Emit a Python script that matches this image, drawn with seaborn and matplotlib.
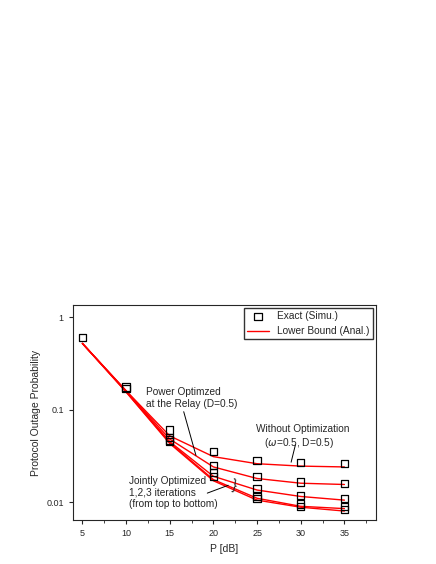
import matplotlib
matplotlib.use("Agg")
import matplotlib.pyplot as plt
import seaborn as sns
from matplotlib.ticker import MultipleLocator, NullLocator, FixedLocator

sns.set_style("ticks")
plt.rcParams["font.family"] = ["Liberation Sans", "DejaVu Sans"]

snr = [5, 10, 15, 20, 25, 30, 35]
without_opt = [0.52, 0.16, 0.052, 0.031, 0.026, 0.0245, 0.024]
power_opt = [0.52, 0.16, 0.048, 0.024, 0.018, 0.016, 0.0155]
joint_1 = [0.52, 0.158, 0.045, 0.019, 0.0135, 0.0115, 0.0105]
joint_2 = [0.52, 0.156, 0.044, 0.0175, 0.011, 0.009, 0.0085]
joint_3 = [0.52, 0.155, 0.043, 0.017, 0.0105, 0.0088, 0.008]

sim_x = [5, 10, 10, 15, 15, 15, 15, 20, 20, 20, 20, 25, 25, 25, 25, 25,
         30, 30, 30, 30, 30, 35, 35, 35, 35, 35]
sim_y = [0.6, 0.17, 0.175, 0.06, 0.05, 0.047, 0.045, 0.035, 0.025, 0.021, 0.019,
         0.028, 0.019, 0.014, 0.0115, 0.011, 0.027, 0.0165, 0.0118, 0.0095, 0.009,
         0.026, 0.016, 0.011, 0.009, 0.0083]

fig = plt.figure(figsize=(4.36, 5.64), dpi=100)
ax = fig.add_axes([0.167, 0.078, 0.695, 0.381])

for i, curve in enumerate([without_opt, power_opt, joint_1, joint_2, joint_3]):
    sns.lineplot(x=snr, y=curve, ax=ax, color="red", lw=1.0,
                 label="Lower Bound (Anal.)" if i == 0 else None)
sns.scatterplot(x=sim_x, y=sim_y, ax=ax, marker="s", s=28, facecolor="none",
                edgecolor="black", linewidth=0.9, label="Exact (Simu.)", zorder=3)

ax.set_yscale("log")
ax.set_xlim(3.9, 38.6)
ax.set_ylim(0.0064, 1.35)
ax.yaxis.set_major_locator(FixedLocator([0.01, 0.1, 1]))
ax.set_yticklabels(["0.01", "0.1", "1"])
ax.yaxis.set_minor_locator(NullLocator())
ax.xaxis.set_major_locator(FixedLocator(snr))
ax.xaxis.set_minor_locator(MultipleLocator(2.5))
ax.tick_params(labelsize=6.5, direction="out", length=3)
ax.tick_params(which="minor", length=2)
ax.set_xlabel("P [dB]", fontsize=7.5)
ax.set_ylabel("Protocol Outage Probability", fontsize=7.5)
for s in ax.spines.values():
    s.set_linewidth(0.8)

handles, labels = ax.get_legend_handles_labels()
order = [labels.index("Exact (Simu.)"), labels.index("Lower Bound (Anal.)")]
ax.legend([handles[i] for i in order], [labels[i] for i in order],
          loc="upper right", fontsize=7.3, frameon=True, fancybox=False,
          edgecolor="black", borderpad=0.3, handlelength=2.2, borderaxespad=0.3)

ax.text(12.3, 0.174, "Power Optimzed\nat the Relay (D=0.5)", fontsize=7.3, va="top")
ax.plot([16.6, 18.0], [0.095, 0.032], color="black", lw=0.7)
ax.text(24.9, 0.0706, "Without Optimization\n   ($\\omega$=0.5, D=0.5)", fontsize=7.3, va="top")
ax.plot([29.4, 28.9], [0.042, 0.027], color="black", lw=0.7)
ax.text(10.3, 0.0193, "Jointly Optimized\n1,2,3 iterations\n(from top to bottom)",
        fontsize=7.3, va="top")
ax.plot([19.3, 21.7], [0.0125, 0.0152], color="black", lw=0.7)
ax.text(22.4, 0.0150, "}", fontsize=10, rotation=-10, ha="center", va="center")

fig.savefig("out.png", dpi=100)
